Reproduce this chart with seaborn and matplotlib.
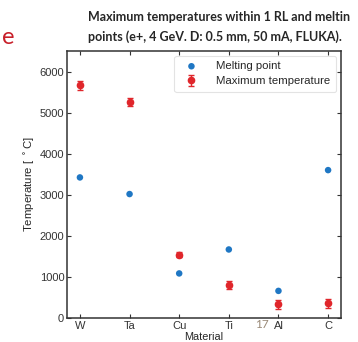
import matplotlib
matplotlib.use("Agg")
import matplotlib.pyplot as plt
import seaborn as sns
import pandas as pd

# datos
materiales = ["W", "Ta", "Cu", "Ti", "Al", "C"]
punto_fusion = [3422, 3017, 1085, 1668, 660, 3600]
temp_maxima = [5660, 5260, 1540, 800, 340, 360]
error_temp = [110, 100, 60, 100, 110, 110]

titulo_1 = "Maximum temperatures within 1 RL and meltin"
titulo_2 = "points (e+, 4 GeV. D: 0.5 mm, 50 mA, FLUKA)."

sns.set_theme(style="ticks")
plt.rcParams["font.family"] = ["Liberation Sans", "DejaVu Sans"]

azul = "#1f77c4"
rojo = "#e0262b"

fig = plt.figure(figsize=(3.58, 3.42), dpi=100)
ax = fig.add_axes([0.1872, 0.0702, 0.7653, 0.7807])

df = pd.DataFrame({"material": materiales, "fusion": punto_fusion,
                   "tmax": temp_maxima, "err": error_temp})

sns.scatterplot(data=df, x="material", y="fusion", ax=ax, color=azul,
                s=22, edgecolor="none", label="Melting point", zorder=3)
ax.errorbar(df["material"], df["tmax"], yerr=df["err"], fmt="o", color=rojo,
            ms=4.5, elinewidth=1, capsize=2, capthick=1,
            label="Maximum temperature", zorder=3)

ax.set_xlim(-0.26, 5.26)
ax.set_ylim(0, 6500)
ax.set_yticks([0, 1000, 2000, 3000, 4000, 5000, 6000])
ax.set_xlabel("Material", fontsize=7.8, labelpad=1)
ax.set_ylabel("Temperature [ $^\\circ$C]", fontsize=8.2, labelpad=2)
ax.tick_params(direction="in", top=True, right=True, length=3, width=0.8,
               labelsize=8, colors="#333333", pad=2)
for s in ax.spines.values():
    s.set_linewidth(1.1)
    s.set_color("#333333")

leg = ax.legend(loc="upper right", fontsize=8.2, frameon=True,
                borderaxespad=0.4, handletextpad=1.2, labelspacing=0.45,
                borderpad=0.5)
leg.get_frame().set_edgecolor("#dddddd")
leg.get_frame().set_linewidth(0.8)

# texto de la diapositiva
fig.text(88 / 358, 1 - 17 / 342, titulo_1, fontsize=9, fontweight="bold",
         family=["Lato", "DejaVu Sans"], va="center", ha="left")
fig.text(88 / 358, 1 - 37 / 342, titulo_2, fontsize=9, fontweight="bold",
         family=["Lato", "DejaVu Sans"], va="center", ha="left")
fig.text(2 / 358, 1 - 37 / 342, "e", fontsize=17, color="#c8202a",
         family=["Lato", "DejaVu Sans"], va="center", ha="left")
fig.text(262 / 358, 1 - 324 / 342, "17", fontsize=8.5, color="#9a8a78",
         family=["Lato", "DejaVu Sans"], va="center", ha="center")

fig.savefig("out.png", dpi=100)
